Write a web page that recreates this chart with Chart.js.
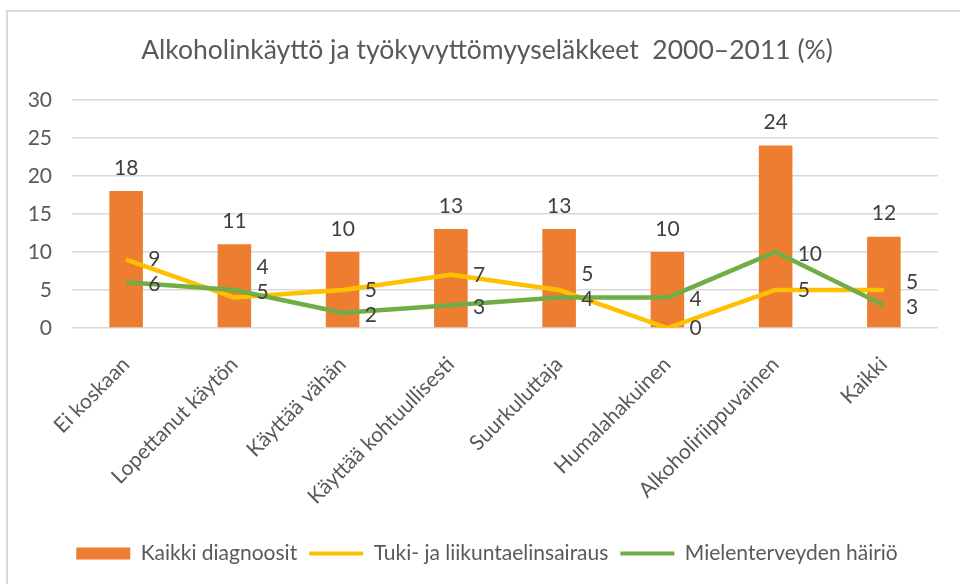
<!DOCTYPE html>
<html>
<head>
<meta charset="utf-8">
<script src="https://cdn.jsdelivr.net/npm/chart.js@4/dist/chart.umd.min.js"></script>
<style>
  html, body { margin: 0; padding: 0; background: #ffffff; }
  body { width: 960px; height: 584px; position: relative; overflow: hidden; }
  .frame { position: absolute; left: 6px; top: 10px; width: 990px; height: 600px; border: 2px solid #d9d9d9; box-sizing: border-box; }
  .wrap { position: absolute; left: 0; top: 0; width: 960px; height: 584px; }
</style>
</head>
<body>
<div class="frame"></div>
<div class="wrap"><canvas id="alcoChart"></canvas></div>
<script>

// ==========================
// Data
// ==========================

const categories = [
    "Ei koskaan",
    "Lopettanut käytön",
    "Käyttää vähän",
    "Käyttää kohtuullisesti",
    "Suurkuluttaja",
    "Humalahakuinen",
    "Alkoholiriippuvainen",
    "Kaikki"
];

const allDiagnoses = [18, 11, 10, 13, 13, 10, 24, 12];
const musculoskeletal = [9, 4, 5, 7, 5, 0, 5, 5];
const mentalHealth = [6, 5, 2, 3, 4, 4, 10, 3];

const yTicks = [0, 5, 10, 15, 20, 25, 30];

const seriesNames = [
    "Kaikki diagnoosit",
    "Tuki- ja liikuntaelinsairaus",
    "Mielenterveyden häiriö"
];

const chartTitle = "Alkoholinkäyttö ja työkyvyttömyyseläkkeet  2000–2011 (%)";

// ==========================
// Styles
// ==========================

const ORANGE = "#ED7D31";
const YELLOW = "#FFC000";
const GREEN = "#70AD47";
const AXIS_TEXT = "#595959";
const LABEL_TEXT = "#404040";
const GRID = "#D9D9D9";
const FONT = "Lato, 'Open Sans', sans-serif";

// ==========================
// Value labels (no datalabels plugin available)
// ==========================

const valueLabels = {

    id: "valueLabels",

    // y axis sits partly in the left padding, so widen its label clip box
    afterLayout(chart) {
        chart.scales.y.left = 0;
    },

    afterDatasetsDraw(chart) {

        const ctx = chart.ctx;

        ctx.save();
        ctx.font = "21px " + FONT;
        ctx.fillStyle = LABEL_TEXT;
        ctx.textBaseline = "middle";

        // bar values above bars
        ctx.textAlign = "center";
        chart.getDatasetMeta(0).data.forEach((bar, i) => {
            ctx.fillText(allDiagnoses[i], bar.x, bar.y - 23);
        });

        // line values to the right of points
        ctx.textAlign = "left";
        const yMeta = chart.getDatasetMeta(1);
        const gMeta = chart.getDatasetMeta(2);

        yMeta.data.forEach((pt, i) => {

            const g = gMeta.data[i];
            const gy = g.y + 2;
            let yy = pt.y;

            // keep the yellow label clear of the green one
            if (Math.abs(yy - gy) < 24) {
                yy = gy - 25;
            }

            ctx.fillText(musculoskeletal[i], pt.x + 22, yy);
            ctx.fillText(mentalHealth[i], g.x + 22, gy);
        });

        ctx.restore();
    }
};

// ==========================
// Chart
// ==========================

const ctx = document.getElementById("alcoChart");

new Chart(ctx, {

    type: "bar",

    data: {

        labels: categories,

        datasets: [
            {
                type: "bar",
                label: seriesNames[0],
                data: allDiagnoses,
                backgroundColor: ORANGE,
                borderWidth: 0,
                barPercentage: 0.62,
                categoryPercentage: 0.5,
                order: 2
            },
            {
                type: "line",
                label: seriesNames[1],
                data: musculoskeletal,
                borderColor: YELLOW,
                backgroundColor: YELLOW,
                borderWidth: 4.5,
                pointRadius: 0,
                tension: 0,
                fill: false,
                borderJoinStyle: "round",
                order: 1
            },
            {
                type: "line",
                label: seriesNames[2],
                data: mentalHealth,
                borderColor: GREEN,
                backgroundColor: GREEN,
                borderWidth: 4.5,
                pointRadius: 0,
                tension: 0,
                fill: false,
                borderJoinStyle: "round",
                order: 0
            }
        ]
    },

    options: {

        responsive: true,
        maintainAspectRatio: false,
        animation: false,

        layout: {
            padding: { left: 36, right: 22, top: 0, bottom: 10 }
        },

        plugins: {

            title: {
                display: true,
                text: chartTitle,
                color: AXIS_TEXT,
                font: { family: FONT, size: 26.5, weight: "normal" },
                padding: { top: 35, bottom: 33 }
            },

            legend: {
                position: "bottom",
                labels: {
                    usePointStyle: true,
                    pointStyleWidth: 54,
                    boxHeight: 12,
                    color: AXIS_TEXT,
                    font: { family: FONT, size: 21 },
                    padding: 12,
                    sort: (a, b) => a.datasetIndex - b.datasetIndex,
                    generateLabels(chart) {
                        const items = Chart.defaults.plugins.legend.labels.generateLabels(chart);
                        items.forEach(item => {
                            if (item.datasetIndex === 0) {
                                item.pointStyle = "rect";
                                item.lineWidth = 0;
                            } else {
                                item.pointStyle = "line";
                                item.lineWidth = 4;
                                item.strokeStyle = item.datasetIndex === 1 ? YELLOW : GREEN;
                            }
                        });
                        return items;
                    }
                }
            },

            tooltip: { enabled: false }
        },

        scales: {

            x: {
                grid: { display: false },
                border: { display: false },
                ticks: {
                    color: AXIS_TEXT,
                    font: { family: FONT, size: 21 },
                    minRotation: 45,
                    maxRotation: 45,
                    padding: 16
                },
                afterFit: s => { s.height = 203; }
            },

            y: {
                min: 0,
                max: 30,
                grid: { color: GRID, lineWidth: 1.5, drawTicks: false },
                border: { display: false },
                afterBuildTicks: s => { s.ticks = yTicks.map(v => ({ value: v })); },
                ticks: {
                    color: AXIS_TEXT,
                    font: { family: FONT, size: 21 },
                    padding: 20
                },
                afterFit: s => { s.width = 36; }
            }
        }
    },

    plugins: [valueLabels]
});

</script>
</body>
</html>
